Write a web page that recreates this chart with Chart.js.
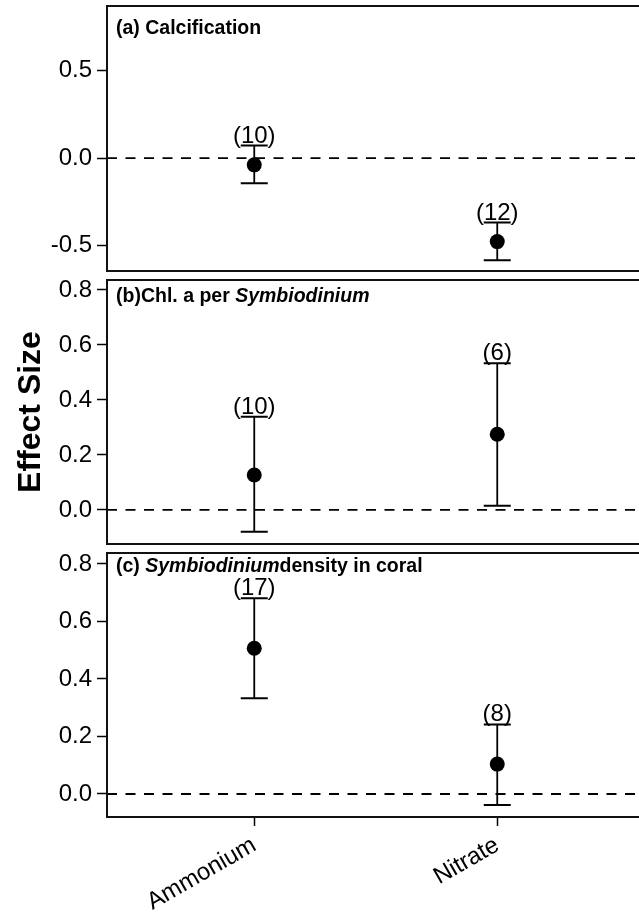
<!DOCTYPE html>
<html><head><meta charset="utf-8">
<script src="https://cdn.jsdelivr.net/npm/chart.js@4.4.1/dist/chart.umd.min.js"></script>
<style>
html,body{margin:0;padding:0;background:#fff;overflow:hidden;width:639px;height:918px}
#wrap{position:relative;width:660px;height:918px;overflow:hidden}
.box{position:absolute;left:0;width:660px}
</style></head><body>
<div id="wrap">
<div class="box" style="top:-14px;height:305px"><canvas id="pa"></canvas></div>
<div class="box" style="top:260px;height:304px"><canvas id="pb"></canvas></div>
<div class="box" style="top:533px;height:385px"><canvas id="pc"></canvas></div>
</div>
<script>
// ---- data ----
const categories = ['Ammonium', 'Nitrate'];

const calcMean  = [-0.038, -0.477];
const calcLower = [-0.143, -0.583];
const calcUpper = [ 0.072, -0.368];
const calcN     = [10, 12];

const chlMean  = [0.127, 0.275];
const chlLower = [-0.079, 0.015];
const chlUpper = [0.339, 0.533];
const chlN     = [10, 6];

const densMean  = [0.507, 0.104];
const densLower = [0.333, -0.038];
const densUpper = [0.681, 0.242];
const densN     = [17, 8];

const yTitle = 'Effect Size';
const titleA = [['(a) ', 'bold'], ['Calcification', 'bold']];
const titleB = [['(b)', 'bold'], ['Chl. a per ', 'bold'], ['Symbiodinium', 'italic bold']];
const titleC = [['(c) ', 'bold'], ['Symbiodinium', 'italic bold'], ['density in coral', 'bold']];

// ---- config ----
const FF = "'Liberation Sans', Arial, Helvetica, sans-serif";
const X_MIN = 0.394, X_MAX = 2.606;
Chart.defaults.font.family = FF;
Chart.defaults.color = '#000';

const boxPlugin = {
  id: 'box',
  afterDatasetsDraw(chart) {
    const {ctx, chartArea: a} = chart;
    ctx.save();
    ctx.strokeStyle = '#111';
    ctx.lineWidth = 2;
    ctx.strokeRect(a.left, a.top, a.right - a.left, a.bottom - a.top);
    ctx.restore();
  }
};

const countPlugin = {
  id: 'counts',
  afterDatasetsDraw(chart, args, opts) {
    const {ctx, scales: {x, y}} = chart;
    ctx.save();
    ctx.font = '24px ' + FF;
    ctx.fillStyle = '#000';
    ctx.textAlign = 'center';
    ctx.textBaseline = 'alphabetic';
    opts.n.forEach((n, i) => {
      ctx.fillText('(' + n + ')', x.getPixelForValue(i + 1), y.getPixelForValue(opts.upper[i]) - 3);
    });
    ctx.restore();
  }
};

const titlePlugin = {
  id: 'panelTitle',
  afterDatasetsDraw(chart, args, opts) {
    const {ctx, chartArea: a} = chart;
    ctx.save();
    ctx.fillStyle = '#000';
    ctx.textBaseline = 'alphabetic';
    ctx.textAlign = 'left';
    let xx = a.left + 9;
    const yy = a.top + opts.dy;
    opts.segments.forEach(([t, st]) => {
      ctx.font = st + ' 19.5px ' + FF;
      ctx.fillText(t, xx, yy);
      xx += ctx.measureText(t).width;
    });
    ctx.restore();
  }
};

function fmt(v) {
  if (Math.abs(v) < 1e-9) return '0.0';
  return v.toFixed(1);
}

function makePanel(id, p) {
  const xs = categories.map((c, i) => i + 1);
  const datasets = [];
  datasets.push({
    data: [{x: X_MIN, y: 0}, {x: X_MAX, y: 0}], showLine: true,
    borderColor: '#000', borderWidth: 1.8, borderDash: [10, 8.5], pointRadius: 0, order: 4
  });
  xs.forEach((x, i) => datasets.push({
    data: [{x, y: p.lower[i]}, {x, y: p.upper[i]}], showLine: true,
    borderColor: '#000', borderWidth: 1.8, pointRadius: 0, order: 3
  }));
  datasets.push({
    data: xs.flatMap((x, i) => [{x, y: p.lower[i]}, {x, y: p.upper[i]}]),
    showLine: false, pointStyle: 'line', pointRadius: 13.5,
    borderColor: '#000', borderWidth: 2, order: 2
  });
  datasets.push({
    data: xs.map((x, i) => ({x, y: p.mean[i]})),
    showLine: false, pointStyle: 'circle', pointRadius: 7.5,
    backgroundColor: '#000', borderColor: '#000', borderWidth: 0, order: 1
  });

  new Chart(document.getElementById(id), {
    type: 'scatter',
    data: {datasets},
    plugins: [boxPlugin, countPlugin, titlePlugin],
    options: {
      responsive: true, maintainAspectRatio: false, animation: false,
      devicePixelRatio: 1,
      layout: {padding: {top: p.padTop, bottom: p.padBottom, left: 0, right: 12}},
      plugins: {
        legend: {display: false}, tooltip: {enabled: false},
        counts: {n: p.n, upper: p.upper},
        panelTitle: {segments: p.title, dy: p.titleDy}
      },
      scales: {
        x: {
          type: 'linear', min: X_MIN, max: X_MAX, display: p.showX,
          afterBuildTicks(s) { s.ticks = categories.map((c, i) => ({value: i + 1})); },
          afterFit(s) { if (p.showX) s.height = 101; s.paddingLeft = 0; s.paddingRight = 0; },
          border: {display: false},
          grid: {drawOnChartArea: false, drawTicks: true, tickLength: 9, tickColor: '#000', tickWidth: 1.5},
          ticks: {autoSkip: false, minRotation: 30, maxRotation: 30, color: '#000',
                  font: {family: FF, size: 24}, padding: 5,
                  callback: (v, i) => categories[i]}
        },
        y: {
          min: p.yMin, max: p.yMax,
          afterFit(s) { s.width = 107; },
          border: {display: false},
          grid: {drawOnChartArea: false, drawTicks: true, tickLength: 10, tickColor: '#000', tickWidth: 1.5},
          ticks: {stepSize: p.step, includeBounds: false, color: '#000',
                  font: {family: FF, size: 24}, padding: 5, callback: v => fmt(v)},
          title: p.yTitle ? {display: true, text: p.yTitle, color: '#000',
                  font: {family: FF, size: 32, weight: 'bold', lineHeight: 1.2},
                  padding: {top: 12, bottom: 0}} : {display: false}
        }
      }
    }
  });
}

makePanel('pa', {mean: calcMean, lower: calcLower, upper: calcUpper, n: calcN,
  yMin: -0.645, yMax: 0.87, step: 0.5, showX: false, title: titleA, titleDy: 28,
  padTop: 20, padBottom: 20});
makePanel('pb', {mean: chlMean, lower: chlLower, upper: chlUpper, n: chlN,
  yMin: -0.124, yMax: 0.836, step: 0.2, showX: false, title: titleB, titleDy: 22,
  padTop: 20, padBottom: 20, yTitle: yTitle});
makePanel('pc', {mean: densMean, lower: densLower, upper: densUpper, n: densN,
  yMin: -0.08, yMax: 0.838, step: 0.2, showX: true, title: titleC, titleDy: 19,
  padTop: 20, padBottom: 0});
</script>
</body></html>
